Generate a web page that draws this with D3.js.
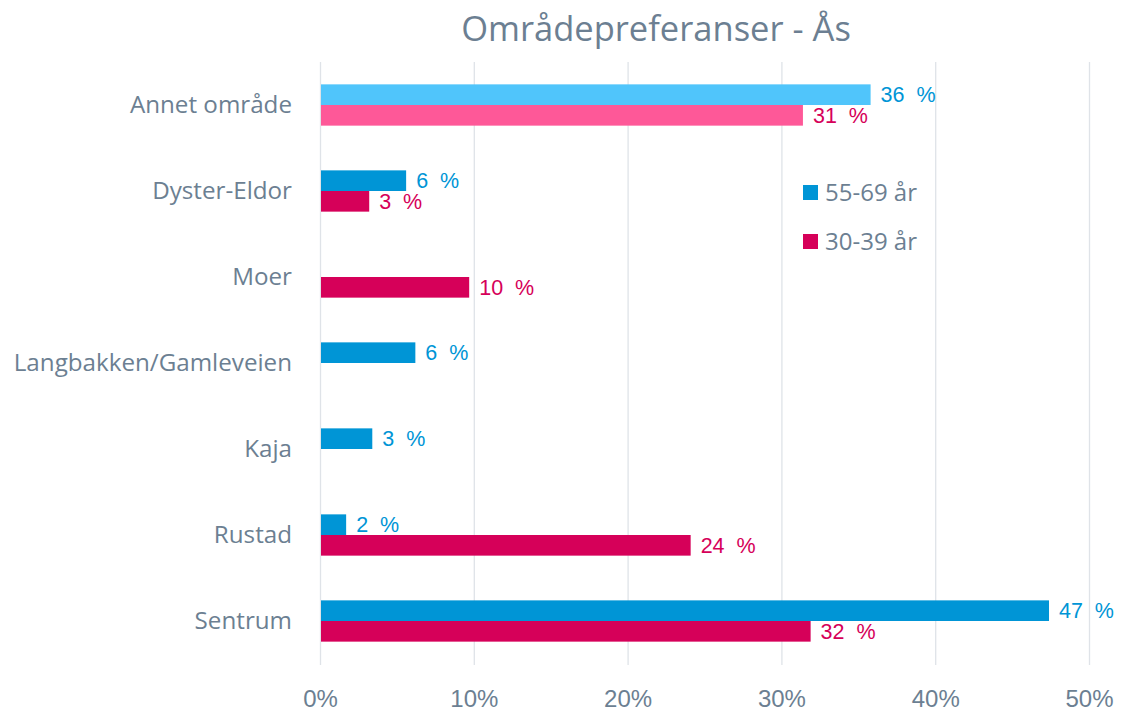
<!DOCTYPE html>
<html>
<head>
<meta charset="utf-8">
<script src="https://cdn.jsdelivr.net/npm/d3@7"></script>
<style>
  html, body { margin: 0; padding: 0; background: #ffffff; }
  svg { display: block; }
</style>
</head>
<body>
<svg id="chart" width="1124" height="713"></svg>
<script>
// Area preferences in Ås, share of respondents per age group (percent)
const categories = ["Annet område", "Dyster-Eldor", "Moer", "Langbakken/Gamleveien", "Kaja", "Rustad", "Sentrum"];
const seriesNames = ["55-69 år", "30-39 år"];
const older = [35.8, 5.6, null, 6.2, 3.4, 1.7, 47.4];   // 55-69 år
const younger = [31.4, 3.2, 9.7, null, null, 24.1, 31.9]; // 30-39 år
const xTicks = [0, 10, 20, 30, 40, 50];
const highlighted = ["Annet område"];

const colors = { "55-69 år": "#0095d6", "30-39 år": "#d60059" };
const highlightColors = { "55-69 år": "#50c5fb", "30-39 år": "#fe5898" };
const textGrey = "#6c7f92";

const svg = d3.select("#chart");
const margin = { top: 62, right: 35, bottom: 48, left: 320 };
const plotW = 1089 - margin.left;
const plotBottom = 664;

const x = d3.scaleLinear().domain([0, 50]).range([margin.left, margin.left + plotW]);
const y = d3.scaleBand().domain(categories).range([margin.top, plotBottom]).paddingInner(0.52).paddingOuter(0.26);
const sub = d3.scaleBand().domain(seriesNames).range([0, y.bandwidth()]);

const rows = categories.map((c, i) => ({ cat: c, values: [older[i], younger[i]] }));

// Title
svg.append("text")
  .attr("x", 656).attr("y", 41)
  .attr("text-anchor", "middle")
  .attr("font-family", "'Open Sans', sans-serif")
  .attr("font-size", 34.5)
  .attr("fill", textGrey)
  .text("Områdepreferanser - Ås");

// Vertical gridlines
svg.append("g").selectAll("line")
  .data(xTicks).join("line")
  .attr("x1", d => x(d) + 0.5).attr("x2", d => x(d) + 0.5)
  .attr("y1", margin.top).attr("y2", plotBottom + 1)
  .attr("stroke", "#dfe3e8").attr("stroke-width", 1.3);

// Bottom axis tick labels
const xAxis = d3.axisBottom(x).tickValues(xTicks).tickFormat(d => d + "%").tickSize(0).tickPadding(0);
const gx = svg.append("g").attr("transform", `translate(0, ${plotBottom})`).call(xAxis);
gx.select(".domain").remove();
gx.selectAll("text")
  .attr("dy", 0).attr("y", 43)
  .attr("font-family", "'Liberation Sans', Arial, sans-serif")
  .attr("font-size", 24)
  .attr("fill", textGrey);

// Category labels
const yAxis = d3.axisLeft(y).tickSize(0).tickPadding(28);
const gy = svg.append("g").attr("transform", `translate(${margin.left}, 0)`).call(yAxis);
gy.select(".domain").remove();
gy.selectAll("text")
  .attr("font-family", "'Open Sans', sans-serif")
  .attr("font-size", 24.2)
  .attr("fill", textGrey);

// Bars and value labels
const groups = svg.append("g").selectAll("g")
  .data(rows).join("g")
  .attr("transform", d => `translate(0, ${y(d.cat)})`);

const cells = groups.selectAll("g")
  .data(d => d.values.map((v, j) => ({ cat: d.cat, series: seriesNames[j], value: v })).filter(e => e.value !== null))
  .join("g");

cells.append("rect")
  .attr("x", x(0) + 1)
  .attr("y", d => sub(d.series))
  .attr("width", d => x(d.value) - x(0) - 1)
  .attr("height", sub.bandwidth())
  .attr("fill", d => highlighted.includes(d.cat) ? highlightColors[d.series] : colors[d.series]);

cells.append("text")
  .attr("x", d => x(d.value) + 10)
  .attr("y", d => sub(d.series) + sub.bandwidth() / 2)
  .attr("dy", "0.36em")
  .attr("font-family", "'Liberation Sans', Arial, sans-serif")
  .attr("font-size", 21.5)
  .attr("fill", d => colors[d.series])
  .style("white-space", "pre")
  .text(d => Math.round(d.value) + "  %");

// Legend
const legend = svg.append("g").attr("transform", "translate(803, 193)");
const li = legend.selectAll("g").data(seriesNames).join("g")
  .attr("transform", (d, i) => `translate(0, ${i * 49})`);
li.append("rect")
  .attr("x", 0).attr("y", -8).attr("width", 15).attr("height", 15)
  .attr("fill", d => colors[d]);
li.append("text")
  .attr("x", 22).attr("y", 0).attr("dy", "0.35em")
  .attr("font-family", "'Open Sans', sans-serif")
  .attr("font-size", 24)
  .attr("fill", textGrey)
  .text(d => d);
</script>
</body>
</html>
